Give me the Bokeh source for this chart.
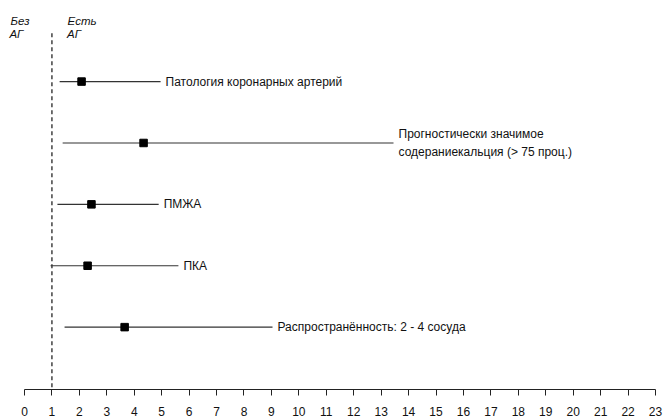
from bokeh.plotting import figure
from bokeh.models import ColumnDataSource, Range1d, FixedTicker
from bokeh.core.properties import value
from bokeh.embed import file_html
from bokeh.resources import INLINE

labels = ["Патология коронарных артерий",
          "Прогностически значимое\nсодераниекальция (> 75 проц.)",
          "ПМЖА",
          "ПКА",
          "Распространённость: 2 - 4 сосуда"]
point = [2.08, 4.34, 2.44, 2.30, 3.65]
low = [1.28, 1.39, 1.20, 0.95, 1.46]
high = [4.96, 13.45, 4.89, 5.61, 9.04]
rows = [0, 1, 2, 3, 4]
ticks = list(range(0, 24))
ref_x = 1

head_text = ["Без", "АГ", "Есть", "АГ"]
head_x = [-0.51, -0.55, 1.57, 1.55]
head_y = [-0.985, -0.776, -0.985, -0.776]

src = ColumnDataSource(dict(y=rows, pt=point, lo=low, hi=high, lab=labels))
hsrc = ColumnDataSource(dict(x=head_x, y=head_y, t=head_text))

p = figure(width=665, height=418, output_backend="svg", toolbar_location=None,
           x_range=Range1d(-0.875, 23), y_range=Range1d(5.016, -1.321),
           min_border_left=0, min_border_right=10, min_border_top=0, min_border_bottom=27)
p.outline_line_color = None
p.grid.visible = False
p.yaxis.visible = False
p.background_fill_color = "white"
p.border_fill_color = "white"

xa = p.xaxis[0]
xa.ticker = FixedTicker(ticks=ticks)
xa.bounds = (0, 23)
xa.minor_tick_line_color = None
xa.major_tick_in = 0
xa.major_tick_out = 6
xa.major_label_standoff = 11
xa.axis_line_color = "#222222"
xa.major_tick_line_color = "#222222"
xa.major_label_text_font = "Liberation Sans"
xa.major_label_text_font_size = "12px"
xa.major_label_text_color = "#111111"

# reference dashed line at x=1
p.segment(x0=[ref_x], x1=[ref_x], y0=[-0.786], y1=[5.016], line_color="#111111",
          line_width=1.2, line_dash="4 3")

p.segment(x0="lo", x1="hi", y0="y", y1="y", source=src, line_color="#333333", line_width=1.2)
p.scatter(x="pt", y="y", source=src, marker="square", size=7.5, fill_color="black",
          line_color="black")
p.text(x="hi", y="y", text="lab", source=src, x_offset=5, text_align="left",
       text_baseline="middle", text_font=value("Liberation Sans"), text_font_size="12px",
       text_color="#111111", text_line_height=1.25)

p.text(x="x", y="y", text="t", source=hsrc, text_align="left", text_baseline="alphabetic",
       text_font=value("Liberation Sans"), text_font_style="italic", text_font_size="11.5px",
       text_color="#111111")

open("out.html", "w").write(file_html(p, INLINE))
